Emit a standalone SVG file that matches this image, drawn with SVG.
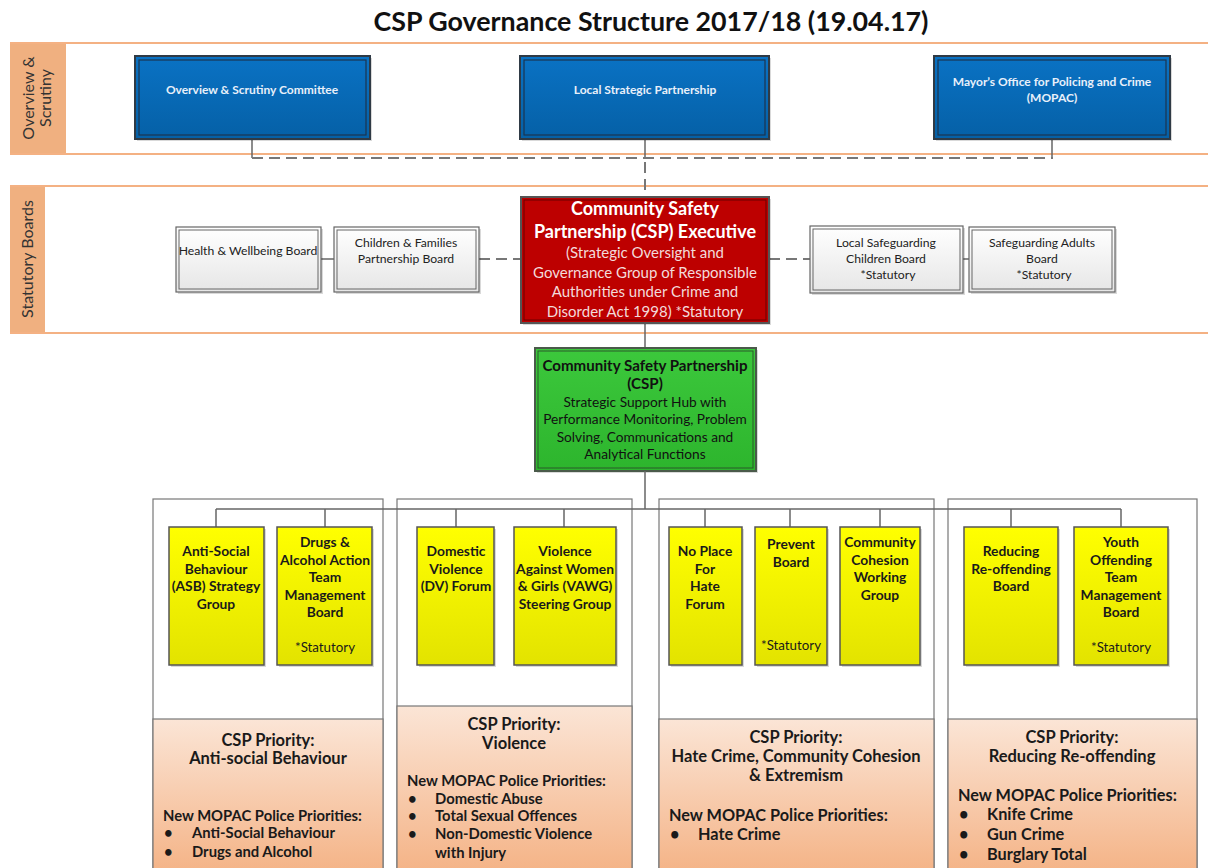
<svg xmlns="http://www.w3.org/2000/svg" width="1208" height="868" viewBox="0 0 1208 868">
<style>
text{font-family:Lato,"Open Sans","Liberation Sans",sans-serif;}
.title{font-size:26.8px;font-weight:bold;fill:#111;text-anchor:middle;}
.band{stroke:#F4B183;stroke-width:2;fill:none;}
.bandlbl{fill:#F0B080;}
.lbl{font-size:16px;fill:#333;text-anchor:middle;}
.blue{fill:url(#gBlue);stroke:#2f3a45;stroke-width:2;}
.blueIn{fill:none;stroke:#1c3550;stroke-width:1.2;}
.btxt{font-size:12px;font-weight:bold;fill:#e8f0fa;text-anchor:middle;}
.grey{fill:url(#gGrey);stroke:#666;stroke-width:1.2;}
.greyIn{fill:none;stroke:#666;stroke-width:1;}
.gtxt{font-size:12.2px;fill:#222;text-anchor:middle;}
.red{fill:#BD0000;stroke:#555;stroke-width:2;}
.redIn{fill:none;stroke:#6b0000;stroke-width:1;}
.rb{font-size:18px;font-weight:bold;fill:#fff;text-anchor:middle;}
.rn{font-size:15px;fill:#f3dada;text-anchor:middle;}
.green{fill:url(#gGreen);stroke:#4a5a4a;stroke-width:2;}
.greenIn{fill:none;stroke:#2a5a2a;stroke-width:1;}
.gb{font-size:15.1px;font-weight:bold;fill:#111;text-anchor:middle;}
.gn{font-size:13.7px;fill:#111;text-anchor:middle;}
.cont{fill:#fff;stroke:#777;stroke-width:1.2;}
.peach{fill:url(#gPeach);stroke:#777;stroke-width:1.2;}
.yel{fill:url(#gYel);stroke:#555;stroke-width:1.5;}
.yb{font-size:13.8px;font-weight:bold;fill:#1a1a1a;text-anchor:middle;}
.yn{font-size:13.3px;fill:#1a1a1a;text-anchor:middle;}
.ph{font-size:16.5px;font-weight:bold;fill:#1a1a1a;text-anchor:middle;}
.pb{font-size:14.8px;font-weight:bold;fill:#1a1a1a;}
.pl{font-size:16.3px;font-weight:bold;fill:#1a1a1a;}
.ln{stroke:#666;stroke-width:1.5;fill:none;}
.dash{stroke:#777;stroke-width:2;fill:none;stroke-dasharray:11 6;}
.shadow{fill:#000;opacity:0.15;}
</style>
<defs>
<linearGradient id="gBlue" x1="0" y1="0" x2="0" y2="1"><stop offset="0" stop-color="#0A72C4"/><stop offset="1" stop-color="#0560A6"/></linearGradient>
<linearGradient id="gGrey" x1="0" y1="0" x2="0" y2="1"><stop offset="0" stop-color="#ffffff"/><stop offset="1" stop-color="#e6e6e6"/></linearGradient>
<linearGradient id="gGreen" x1="0" y1="0" x2="0" y2="1"><stop offset="0" stop-color="#3CC83C"/><stop offset="1" stop-color="#2DB52D"/></linearGradient>
<linearGradient id="gYel" x1="0" y1="0" x2="0" y2="1"><stop offset="0" stop-color="#FFFF00"/><stop offset="1" stop-color="#E3E300"/></linearGradient>
<linearGradient id="gPeach" x1="0" y1="0" x2="0" y2="1"><stop offset="0" stop-color="#FBE5D6"/><stop offset="1" stop-color="#F4B183"/></linearGradient>
</defs>
<rect width="1208" height="868" fill="#fff"/>
<text class="title" x="651" y="31">CSP Governance Structure 2017/18 (19.04.17)</text>

<g id="band-overview">
<rect class="bandlbl" x="10" y="43" width="56" height="111"/>
<line class="band" x1="10" y1="43" x2="1208" y2="43"/>
<line class="band" x1="10" y1="154" x2="1208" y2="154"/>
<text class="lbl" transform="translate(34,98) rotate(-90)">Overview &amp;</text>
<text class="lbl" transform="translate(51,98) rotate(-90)">Scrutiny</text>
</g>
<g id="band-statutory">
<rect class="bandlbl" x="10" y="186" width="35" height="147"/>
<line class="band" x1="10" y1="186" x2="1208" y2="186"/>
<line class="band" x1="10" y1="333" x2="1208" y2="333"/>
<text class="lbl" transform="translate(33,259) rotate(-90)">Statutory Boards</text>
</g>

<g id="connectors">
<line class="ln" x1="252" y1="139" x2="252" y2="158"/>
<line class="ln" x1="645" y1="139" x2="645" y2="158"/>
<line class="ln" x1="1052" y1="139" x2="1052" y2="158"/>
<line class="dash" x1="252" y1="158" x2="1053" y2="158"/>
<line class="dash" x1="645" y1="162" x2="645" y2="197"/>
<line class="ln" x1="321" y1="259" x2="334" y2="259"/>
<line class="dash" x1="479" y1="259" x2="521" y2="259"/>
<line class="dash" x1="769" y1="259" x2="810" y2="259"/>
<line class="ln" x1="963" y1="259" x2="969" y2="259"/>
<line class="ln" x1="645" y1="323" x2="645" y2="348"/>
</g>

<g id="n-osc">
<rect class="shadow" x="137" y="58" width="235" height="83"/>
<rect class="blue" x="135" y="56" width="235" height="83"/>
<rect class="blueIn" x="139" y="60" width="227" height="75"/>
<text class="btxt" x="252" y="94">Overview &amp; Scrutiny Committee</text>
</g>
<g id="n-lsp">
<rect class="shadow" x="522" y="58" width="249" height="83"/>
<rect class="blue" x="520" y="56" width="249" height="83"/>
<rect class="blueIn" x="524" y="60" width="241" height="75"/>
<text class="btxt" x="645" y="94">Local Strategic Partnership</text>
</g>
<g id="n-mopac">
<rect class="shadow" x="936" y="58" width="236" height="83"/>
<rect class="blue" x="934" y="56" width="236" height="83"/>
<rect class="blueIn" x="938" y="60" width="228" height="75"/>
<text class="btxt" x="1052" y="86">Mayor’s Office for Policing and Crime</text>
<text class="btxt" x="1052" y="102">(MOPAC)</text>
</g>

<g id="n-hwb">
<rect class="shadow" x="178" y="229" width="145" height="65"/>
<rect class="grey" x="176" y="227" width="145" height="65"/>
<rect class="greyIn" x="179" y="230" width="139" height="59"/>
<text class="gtxt" x="248" y="255">Health &amp; Wellbeing Board</text>
</g>
<g id="n-cfpb">
<rect class="shadow" x="336" y="229" width="145" height="65"/>
<rect class="grey" x="334" y="227" width="145" height="65"/>
<rect class="greyIn" x="337" y="230" width="139" height="59"/>
<text class="gtxt" x="406" y="247">Children &amp; Families</text>
<text class="gtxt" x="406" y="263">Partnership Board</text>
</g>
<g id="n-lscb">
<rect class="shadow" x="812" y="228" width="153" height="67"/>
<rect class="grey" x="810" y="226" width="153" height="67"/>
<rect class="greyIn" x="813" y="229" width="147" height="61"/>
<text class="gtxt" x="886" y="247">Local Safeguarding</text>
<text class="gtxt" x="886" y="263">Children Board</text>
<text class="gtxt" x="888" y="279">*Statutory</text>
</g>
<g id="n-sab">
<rect class="shadow" x="971" y="229" width="146" height="65"/>
<rect class="grey" x="969" y="227" width="146" height="65"/>
<rect class="greyIn" x="972" y="230" width="140" height="59"/>
<text class="gtxt" x="1042" y="247">Safeguarding Adults</text>
<text class="gtxt" x="1042" y="263">Board</text>
<text class="gtxt" x="1044" y="279">*Statutory</text>
</g>

<g id="n-exec">
<rect class="shadow" x="523" y="199" width="248" height="126"/>
<rect class="red" x="521" y="197" width="248" height="126"/>
<rect class="redIn" x="524" y="200" width="242" height="120"/>
<text class="rb" x="645" y="215">Community Safety</text>
<text class="rb" x="645" y="238">Partnership (CSP) Executive</text>
<text class="rn" x="645" y="258">(Strategic Oversight and</text>
<text class="rn" x="645" y="278">Governance Group of Responsible</text>
<text class="rn" x="645" y="297">Authorities under Crime and</text>
<text class="rn" x="645" y="317">Disorder Act 1998) *Statutory</text>
</g>

<g id="n-csp">
<rect class="shadow" x="537" y="350" width="221" height="123"/>
<rect class="green" x="535" y="348" width="221" height="123"/>
<rect class="greenIn" x="538" y="351" width="215" height="117"/>
<text class="gb" x="645" y="371">Community Safety Partnership</text>
<text class="gb" x="645" y="389">(CSP)</text>
<text class="gn" x="645" y="407">Strategic Support Hub with</text>
<text class="gn" x="645" y="424">Performance Monitoring, Problem</text>
<text class="gn" x="645" y="442">Solving, Communications and</text>
<text class="gn" x="645" y="459">Analytical Functions</text>
</g>

<g id="c-asb">
<rect class="cont" x="153" y="499" width="230" height="380"/>
<rect class="peach" x="153" y="719" width="230" height="160"/>
<text class="ph" x="268" y="746">CSP Priority:</text>
<text class="ph" x="268" y="764">Anti-social Behaviour</text>
<text class="pb" x="163" y="821">New MOPAC Police Priorities:</text>
<text class="pb" x="164" y="838">•</text><text class="pb" x="192" y="838">Anti-Social Behaviour</text>
<text class="pb" x="164" y="857">•</text><text class="pb" x="192" y="857">Drugs and Alcohol</text>
</g>
<g id="c-vio">
<rect class="cont" x="397" y="499" width="235" height="380"/>
<rect class="peach" x="397" y="706" width="235" height="173"/>
<text class="ph" x="514" y="730">CSP Priority:</text>
<text class="ph" x="514" y="749">Violence</text>
<text class="pb" x="407" y="786">New MOPAC Police Priorities:</text>
<text class="pb" x="408" y="804">•</text><text class="pb" x="435" y="804">Domestic Abuse</text>
<text class="pb" x="408" y="821">•</text><text class="pb" x="435" y="821">Total Sexual Offences</text>
<text class="pb" x="408" y="839">•</text><text class="pb" x="435" y="839">Non-Domestic Violence</text>
<text class="pb" x="435" y="858">with Injury</text>
</g>
<g id="c-hate">
<rect class="cont" x="659" y="499" width="275" height="380"/>
<rect class="peach" x="659" y="719" width="275" height="160"/>
<text class="ph" x="796" y="743">CSP Priority:</text>
<text class="ph" x="796" y="762">Hate Crime, Community Cohesion</text>
<text class="ph" x="796" y="781">&amp; Extremism</text>
<text class="pl" x="669" y="821">New MOPAC Police Priorities:</text>
<text class="pl" x="670" y="840">•</text><text class="pl" x="698" y="840">Hate Crime</text>
</g>
<g id="c-reoff">
<rect class="cont" x="948" y="499" width="249" height="380"/>
<rect class="peach" x="948" y="719" width="249" height="160"/>
<text class="ph" x="1072" y="743">CSP Priority:</text>
<text class="ph" x="1072" y="762">Reducing Re-offending</text>
<text class="pl" x="958" y="801">New MOPAC Police Priorities:</text>
<text class="pl" x="959" y="820">•</text><text class="pl" x="987" y="820">Knife Crime</text>
<text class="pl" x="959" y="840">•</text><text class="pl" x="987" y="840">Gun Crime</text>
<text class="pl" x="959" y="860">•</text><text class="pl" x="987" y="860">Burglary Total</text>
</g>

<g id="bus-connectors">
<line class="ln" x1="645" y1="471" x2="645" y2="509"/>
<line class="ln" x1="216" y1="509" x2="1121" y2="509"/>
<line class="ln" x1="216" y1="509" x2="216" y2="527"/>
<line class="ln" x1="325" y1="509" x2="325" y2="527"/>
<line class="ln" x1="456" y1="509" x2="456" y2="527"/>
<line class="ln" x1="564" y1="509" x2="564" y2="527"/>
<line class="ln" x1="705" y1="509" x2="705" y2="527"/>
<line class="ln" x1="790" y1="509" x2="790" y2="527"/>
<line class="ln" x1="880" y1="509" x2="880" y2="527"/>
<line class="ln" x1="1011" y1="509" x2="1011" y2="527"/>
<line class="ln" x1="1121" y1="509" x2="1121" y2="527"/>
</g>

<g id="n-asb">
<rect class="shadow" x="171" y="529" width="95" height="138"/>
<rect class="yel" x="169" y="527" width="95" height="138"/>
<text class="yb" x="216" y="556">Anti-Social</text>
<text class="yb" x="216" y="574">Behaviour</text>
<text class="yb" x="216" y="591">(ASB) Strategy</text>
<text class="yb" x="216" y="609">Group</text>
</g>
<g id="n-daat">
<rect class="shadow" x="279" y="529" width="95" height="138"/>
<rect class="yel" x="277" y="527" width="95" height="138"/>
<text class="yb" x="325" y="547">Drugs &amp;</text>
<text class="yb" x="325" y="565">Alcohol Action</text>
<text class="yb" x="325" y="582">Team</text>
<text class="yb" x="325" y="600">Management</text>
<text class="yb" x="325" y="617">Board</text>
<text class="yn" x="325" y="652">*Statutory</text>
</g>
<g id="n-dv">
<rect class="shadow" x="419" y="529" width="77" height="138"/>
<rect class="yel" x="417" y="527" width="77" height="138"/>
<text class="yb" x="456" y="556">Domestic</text>
<text class="yb" x="456" y="574">Violence</text>
<text class="yb" x="456" y="591">(DV) Forum</text>
</g>
<g id="n-vawg">
<rect class="shadow" x="516" y="529" width="102" height="138"/>
<rect class="yel" x="514" y="527" width="102" height="138"/>
<text class="yb" x="565" y="556">Violence</text>
<text class="yb" x="565" y="574">Against Women</text>
<text class="yb" x="565" y="591">&amp; Girls (VAWG)</text>
<text class="yb" x="565" y="609">Steering Group</text>
</g>
<g id="n-npfh">
<rect class="shadow" x="671" y="529" width="73" height="138"/>
<rect class="yel" x="669" y="527" width="73" height="138"/>
<text class="yb" x="705" y="556">No Place</text>
<text class="yb" x="705" y="574">For</text>
<text class="yb" x="705" y="591">Hate</text>
<text class="yb" x="705" y="609">Forum</text>
</g>
<g id="n-prevent">
<rect class="shadow" x="757" y="529" width="72" height="138"/>
<rect class="yel" x="755" y="527" width="72" height="138"/>
<text class="yb" x="791" y="549">Prevent</text>
<text class="yb" x="791" y="567">Board</text>
<text class="yn" x="791" y="650">*Statutory</text>
</g>
<g id="n-ccwg">
<rect class="shadow" x="842" y="529" width="80" height="138"/>
<rect class="yel" x="840" y="527" width="80" height="138"/>
<text class="yb" x="880" y="547">Community</text>
<text class="yb" x="880" y="565">Cohesion</text>
<text class="yb" x="880" y="582">Working</text>
<text class="yb" x="880" y="600">Group</text>
</g>
<g id="n-rrb">
<rect class="shadow" x="966" y="529" width="94" height="138"/>
<rect class="yel" x="964" y="527" width="94" height="138"/>
<text class="yb" x="1011" y="556">Reducing</text>
<text class="yb" x="1011" y="574">Re-offending</text>
<text class="yb" x="1011" y="591">Board</text>
</g>
<g id="n-yot">
<rect class="shadow" x="1076" y="529" width="94" height="138"/>
<rect class="yel" x="1074" y="527" width="94" height="138"/>
<text class="yb" x="1121" y="547">Youth</text>
<text class="yb" x="1121" y="565">Offending</text>
<text class="yb" x="1121" y="582">Team</text>
<text class="yb" x="1121" y="600">Management</text>
<text class="yb" x="1121" y="617">Board</text>
<text class="yn" x="1121" y="652">*Statutory</text>
</g>
</svg>
